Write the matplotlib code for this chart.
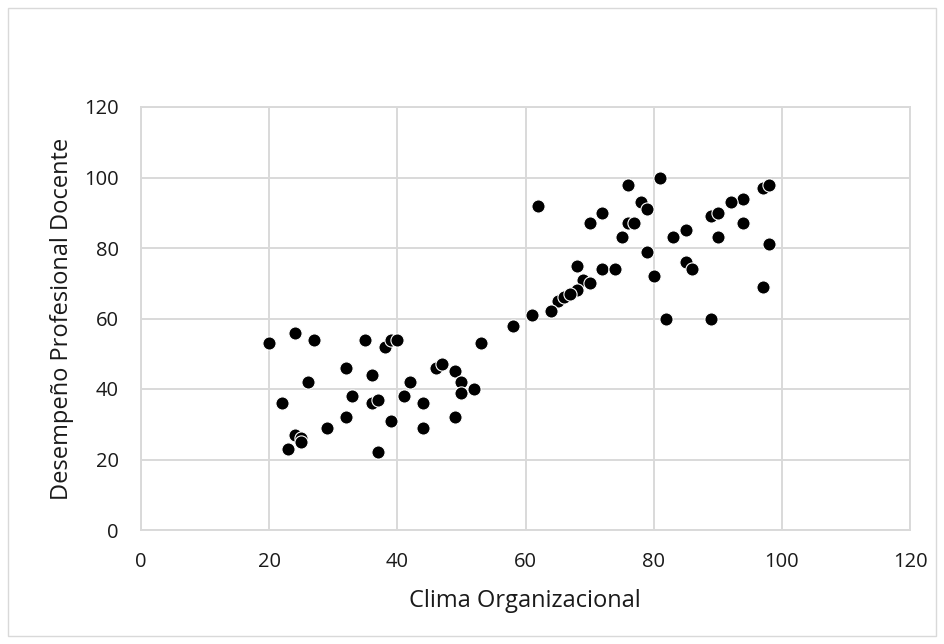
import matplotlib
matplotlib.use("Agg")
import matplotlib.pyplot as plt
from matplotlib.patches import Rectangle

clima = [20, 24, 27, 35, 38, 39, 40, 32, 36, 42, 26, 22, 33, 36, 37, 41, 44, 32, 39, 44, 29,
         24, 25, 25, 23, 37, 58, 53, 46, 47, 49, 50, 50, 52, 49,
         62, 76, 81, 78, 79, 72, 70, 76, 77, 75, 79, 68, 72, 74, 80, 69, 70, 68, 65, 66, 67, 64, 61,
         97, 98, 94, 92, 89, 90, 85, 83, 90, 94, 98, 85, 86, 97, 82, 89]
desempeno = [53, 56, 54, 54, 52, 54, 54, 46, 44, 42, 42, 36, 38, 36, 37, 38, 36, 32, 31, 29, 29,
             27, 26, 25, 23, 22, 58, 53, 46, 47, 45, 42, 39, 40, 32,
             92, 98, 100, 93, 91, 90, 87, 87, 87, 83, 79, 75, 74, 74, 72, 71, 70, 68, 65, 66, 67, 62, 61,
             97, 98, 94, 93, 89, 90, 85, 83, 83, 87, 81, 76, 74, 69, 60, 60]

x_ticks = [0, 20, 40, 60, 80, 100, 120]
y_ticks = [0, 20, 40, 60, 80, 100, 120]

font = ["Open Sans", "DejaVu Sans"]
plt.rcParams["font.family"] = font
text_color = "#1a1a1a"

W, H = 944, 644
fig = plt.figure(figsize=(W / 100, H / 100), dpi=100)
ax = fig.add_axes([141 / W, 1 - 530 / H, (910 - 141) / W, (530 - 107) / H])

ax.scatter(clima, desempeno, s=90, c="black", edgecolors="white", linewidths=0.8, zorder=3)

ax.set_xlim(0, 120)
ax.set_ylim(0, 120)
ax.set_xticks(x_ticks)
ax.set_yticks(y_ticks)
ax.grid(True, color="#d9d9d9", linewidth=1.4, zorder=0)
ax.set_axisbelow(True)
for s in ax.spines.values():
    s.set_color("#d9d9d9")
    s.set_linewidth(1.4)
ax.tick_params(length=0, labelsize=14.5, colors=text_color)
ax.tick_params(axis="y", pad=16)
ax.tick_params(axis="x", pad=16)

fig.text(525 / W, 1 - 601 / H, "Clima Organizacional", fontsize=17, color=text_color,
         ha="center", va="center")
fig.text(62 / W, 1 - 319 / H, "Desempeño Profesional Docente", fontsize=17, color=text_color,
         ha="center", va="center", rotation=90)

fig.add_artist(Rectangle((8 / W, 8 / H), 928 / W, 628 / H, transform=fig.transFigure,
                         fill=False, edgecolor="#d9d9d9", linewidth=1))

fig.savefig("out.png", dpi=100, facecolor="white")
